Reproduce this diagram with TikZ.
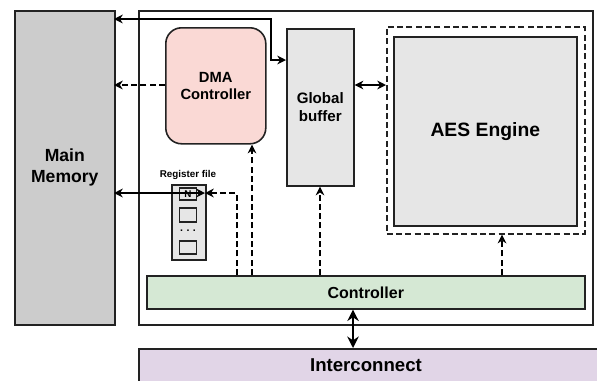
\documentclass[tikz,border=0pt]{standalone}
\usepackage{fontspec}
\setmainfont{Liberation Sans}
\usetikzlibrary{arrows.meta}
\definecolor{memgray}{HTML}{CCCCCC}
\definecolor{boxgray}{HTML}{E6E6E6}
\definecolor{dmapink}{HTML}{FAD9D5}
\definecolor{ctlgreen}{HTML}{D5E8D4}
\definecolor{icpurple}{HTML}{E1D5E7}
\definecolor{edge}{HTML}{222222}
\begin{document}
\begin{tikzpicture}[x=0.02cm,y=-0.02cm,
  blk/.style={draw=edge,line width=0.9pt,inner sep=0pt,font=\bfseries},
  conn/.style={line width=0.8pt,-{Stealth[length=5pt,width=5pt]}},
  bconn/.style={line width=0.8pt,{Stealth[length=5pt,width=5pt]}-{Stealth[length=5pt,width=5pt]}},
  dashpat/.style={dash pattern=on 3.4pt off 1.9pt},
  dconn/.style={conn,dashpat},
]
\clip (0,0) rectangle (597,380);
\useasboundingbox (0,0) rectangle (597,380);
% outer box
\node[draw=edge,line width=0.9pt,minimum width=454*0.02cm,minimum height=314*0.02cm,anchor=north west,inner sep=0pt] (outer) at (138,10) {};
% main memory
\node[blk,fill=memgray,minimum width=100*0.02cm,minimum height=314*0.02cm,anchor=north west,align=center,font=\bfseries\fontsize{10}{12}\selectfont] (mem) at (14,10) {Main\\Memory};
% DMA
\node[blk,fill=dmapink,rounded corners=9pt,minimum width=100*0.02cm,minimum height=116*0.02cm,anchor=north west,align=center,font=\bfseries\fontsize{8.4}{10}\selectfont] (dma) at (165,27) {DMA\\Controller};
% global buffer
\node[blk,fill=boxgray,minimum width=67*0.02cm,minimum height=157*0.02cm,anchor=north west,align=center,font=\bfseries\fontsize{8.6}{10.5}\selectfont] (gb) at (286,28) {Global\\buffer};
% AES
\node[draw=edge,line width=0.9pt,dashpat,minimum width=198*0.02cm,minimum height=207*0.02cm,anchor=north west,inner sep=0pt] (aesd) at (386,26) {};
\node[blk,fill=boxgray,minimum width=183*0.02cm,minimum height=189*0.02cm,anchor=north west,font=\bfseries\fontsize{11}{13}\selectfont] (aes) at (393,36) {AES Engine};
% register file
\node[blk,fill=boxgray,minimum width=34*0.02cm,minimum height=75*0.02cm,anchor=north west] (rf) at (171,184) {};
\node[font=\bfseries\fontsize{5.6}{6}\selectfont,inner sep=0pt] (rflab) at (188,175) {Register file};
\node[blk,fill=boxgray,minimum width=17*0.02cm,minimum height=12*0.02cm,font=\bfseries\fontsize{5.6}{6}\selectfont] (r1) at (188,194) {N};
\node[blk,fill=boxgray,minimum width=17*0.02cm,minimum height=14*0.02cm] (r2) at (188,215) {};
\node[font=\bfseries\fontsize{6}{6}\selectfont,inner sep=0pt] (rdots) at (188,231) {.\hspace{2pt}.\hspace{2pt}.};
\node[blk,fill=boxgray,minimum width=17*0.02cm,minimum height=13*0.02cm] (r3) at (188,247.5) {};
% controller
\node[blk,fill=ctlgreen,minimum width=438*0.02cm,minimum height=33*0.02cm,anchor=north west,font=\bfseries\fontsize{9.1}{11}\selectfont] (ctl) at (146,275) {Controller};
% interconnect
\node[blk,fill=icpurple,minimum width=470*0.02cm,minimum height=40*0.02cm,anchor=north west] (ic) at (138,348) {};
\node[font=\bfseries\fontsize{10.6}{12}\selectfont,inner sep=0pt] (iclab) at (366,365) {Interconnect};
% coordinates
\coordinate (memtop) at (114,19);
\coordinate (bend1) at (271,19);
\coordinate (bend2) at (271,60);
\coordinate (gbin) at (286,60);
\coordinate (memdma) at (114,85);
\coordinate (memrf) at (114,193);
\coordinate (rfin) at (205,193);
\coordinate (rfbend) at (237,193);
\coordinate (rfbot) at (237,275);
% connectors
\draw[bconn] (memtop) -- (bend1) -- (bend2) -- (gbin);
\draw[dconn] (dma.west |- memdma) -- (memdma);
\draw[bconn] (gb.east |- 0,85) -- (aesd.west |- 0,85);
\draw[bconn] (memrf) -- (rfin);
\draw[dconn] (rfbot) -- (rfbend) -- (rfin);
\draw[dconn] (ctl.north -| 252,0) -- (dma.south -| 252,0);
\draw[dconn] (ctl.north -| 320,0) -- (gb.south -| 320,0);
\draw[dconn] (ctl.north -| 502,0) -- (aesd.south -| 502,0);
\draw[line width=1.5pt,{Stealth[length=6.5pt,width=6.5pt]}-{Stealth[length=6.5pt,width=6.5pt]}] (ctl.south -| 353,0) -- (ic.north -| 353,0);
\end{tikzpicture}
\end{document}
